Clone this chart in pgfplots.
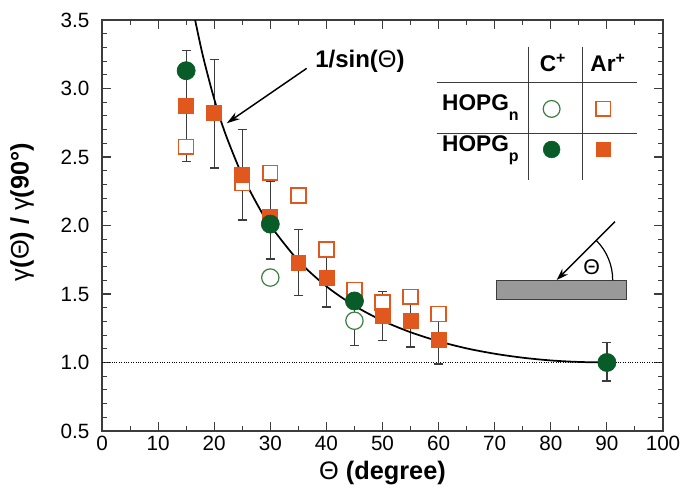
\documentclass[border=0pt]{standalone}
\usepackage{fontspec}
\setmainfont{Liberation Sans}
\usepackage{pgfplots}
\usepackage{pgfplotstable}
\pgfplotsset{compat=1.18}
\usetikzlibrary{arrows.meta}

\definecolor{arorange}{RGB}{224,88,30}
\definecolor{cgreen}{RGB}{8,92,40}
\definecolor{cgreenl}{RGB}{60,125,65}
\definecolor{axgray}{RGB}{60,60,60}

% Ar+ on HOPG_p (filled squares)
\pgfplotstableread{
x y
15 2.874
20 2.820
25 2.370
30 2.060
35 1.730
40 1.615
50 1.340
55 1.303
60 1.164
}\arp
% Ar+ on HOPG_n (open squares)
\pgfplotstableread{
x y
15 2.575
25 2.310
30 2.385
35 2.220
40 1.826
45 1.530
50 1.437
55 1.480
60 1.354
}\arn
% C+ on HOPG_p (filled circles)
\pgfplotstableread{
x y
15 3.130
30 2.010
45 1.449
90 1.000
}\cp
% C+ on HOPG_n (open circles)
\pgfplotstableread{
x y
30 1.620
45 1.305
}\cn
% error bars
\pgfplotstableread{
x y ep em
15 2.875 0.405 0.405
20 2.820 0.390 0.400
25 2.370 0.330 0.330
30 2.040 0.280 0.285
35 1.730 0.240 0.240
40 1.615 0.210 0.210
45 1.305 0.180 0.180
50 1.340 0.180 0.180
55 1.303 0.190 0.190
60 1.164 0.175 0.175
90 1.000 0.145 0.135
}\errs
% 1/sin(theta) curve
\pgfplotstableread{
x y
16.6 3.500
18 3.236
20 2.924
22 2.669
25 2.366
28 2.130
30 2.000
35 1.743
40 1.556
45 1.414
50 1.305
55 1.221
60 1.155
65 1.103
70 1.064
75 1.035
80 1.015
85 1.004
90 1.000
}\curve

\begin{document}
\begin{tikzpicture}
\path[use as bounding box] (-76.5pt,-49.5pt) rectangle (435.75pt,323.25pt);
\begin{axis}[
    width=420.75pt, height=308.25pt, scale only axis,
    xmin=0, xmax=100, ymin=0.5, ymax=3.5,
    xtick={0,10,...,100}, ytick={0.5,1,...,3.5},
    minor x tick num=1, minor y tick num=4,
    tick align=inside,
    major tick length=6.75pt, minor tick length=3.75pt,
    tick style={line width=0.8pt, axgray},
    axis line style={line width=1pt, axgray},
    /pgf/number format/assume math mode=true,
    yticklabel style={/pgf/number format/fixed, /pgf/number format/fixed zerofill,
        /pgf/number format/precision=1, xshift=-6pt},
    ticklabel style={font=\fontsize{15.5}{16}\selectfont},
    xlabel={\mdseries Θ\bfseries{} (degree)},
    ylabel={{\mdseries γ}(\mdseries Θ\bfseries) / {\mdseries γ}(90°)},
    every axis x label/.style={at={(axis description cs:0.5,-0.102)}, anchor=center,
        font=\bfseries\fontsize{19}{20}\selectfont},
    every axis y label/.style={at={(axis description cs:-0.1426,0.533)}, rotate=90, anchor=center,
        font=\bfseries\fontsize{19}{20}\selectfont},
    legend image code/.code={\draw[#1] plot coordinates {(0pt,0pt)};},
    legend style={at={(axis cs:84.76,2.703)}, anchor=center,
        draw=none, fill=none, inner sep=0pt, outer sep=0pt,
        legend columns=2, row sep=17.8pt, column sep=0pt,
        /tikz/every even column/.append style={column sep=26pt},
        nodes={inner sep=0pt}},
]
% reference line
\addplot[forget plot, black, densely dotted, line width=0.8pt] coordinates {(0,1) (100,1)};
% error bars
\addplot[forget plot, only marks, mark=none,
    error bars/.cd, y dir=both, y explicit,
    error bar style={axgray, line width=0.9pt},
    error mark options={axgray, line width=0.9pt, rotate=90, mark size=3.4pt}]
    table[x=x, y=y, y error plus=ep, y error minus=em] {\errs};
% 1/sin curve
\addplot[forget plot, black, line width=1.3pt, smooth] table {\curve};
% markers
\addplot[forget plot, only marks, mark=square*, mark size=5.6pt,
    mark options={draw=arorange, fill=white, line width=1.1pt}] table {\arn};
\addplot[forget plot, only marks, mark=*, mark size=6.5pt,
    mark options={draw=cgreenl, fill=white, line width=0.9pt}] table {\cn};
\addplot[forget plot, only marks, mark=square*, mark size=5.6pt,
    mark options={draw=arorange, fill=arorange, line width=0.5pt}] table {\arp};
\addplot[forget plot, only marks, mark=*, mark size=6.8pt,
    mark options={draw=cgreen, fill=cgreen, line width=0.5pt}] table {\cp};

% legend table markers
\addlegendimage{only marks, mark=*, mark size=6.3pt, mark options={draw=cgreenl, fill=white, line width=0.9pt}}
\addlegendentry{\hbox{}}
\addlegendimage{only marks, mark=square*, mark size=5.4pt, mark options={draw=arorange, fill=white, line width=1.1pt}}
\addlegendentry{\hbox{}}
\addlegendimage{only marks, mark=*, mark size=6.3pt, mark options={draw=cgreen, fill=cgreen}}
\addlegendentry{\hbox{}}
\addlegendimage{only marks, mark=square*, mark size=5.4pt, mark options={draw=arorange, fill=arorange}}
\addlegendentry{\hbox{}}

% legend table grid and labels
\draw[axgray, line width=0.9pt] (axis cs:75.99,3.305) -- (axis cs:75.99,2.332);
\draw[axgray, line width=0.9pt] (axis cs:85.62,3.305) -- (axis cs:85.62,2.332);
\draw[axgray, line width=0.9pt] (axis cs:59.66,3.042) -- (axis cs:95.3,3.042);
\draw[axgray, line width=0.9pt] (axis cs:59.66,2.673) -- (axis cs:95.3,2.673);
\begin{scope}[font=\bfseries\fontsize{17}{18}\selectfont]
\node at (axis cs:80.39,3.186) {C\textsuperscript{+}};
\node at (axis cs:90.2,3.186) {Ar\textsuperscript{+}};
\node[anchor=west, inner sep=0pt] at (axis cs:60.6,2.858) {HOPG\raisebox{-0.45em}{\fontsize{12}{12}\selectfont n}};
\node[anchor=west, inner sep=0pt] at (axis cs:60.6,2.551) {HOPG\raisebox{-0.45em}{\fontsize{12}{12}\selectfont p}};
\end{scope}

% 1/sin label and arrow
\node[anchor=west, inner sep=0pt, font=\bfseries\fontsize{18}{19}\selectfont]
    at (axis cs:37.97,3.196) {1/sin(\mdseries Θ\bfseries)};
\draw[-{Stealth[length=10pt, width=6pt]}, black, line width=1.1pt]
    (axis cs:36.49,3.147) -- (axis cs:22.23,2.746);

% inset: incidence angle sketch
\draw[axgray, fill=black!40, line width=0.8pt] (axis cs:70.36,1.461) rectangle (axis cs:93.5,1.597);
\draw[-{Stealth[length=9pt, width=6pt]}, black, line width=1.1pt]
    (axis cs:91.44,2.028) -- (axis cs:81.05,1.602);
\draw[black, line width=0.9pt] (axis cs:81.05,1.602) ++(45:42pt) arc[start angle=45, end angle=0, radius=42pt];
\node[font=\fontsize{16}{17}\selectfont] at (axis cs:87.29,1.699) {Θ};
\end{axis}
\end{tikzpicture}
\end{document}
